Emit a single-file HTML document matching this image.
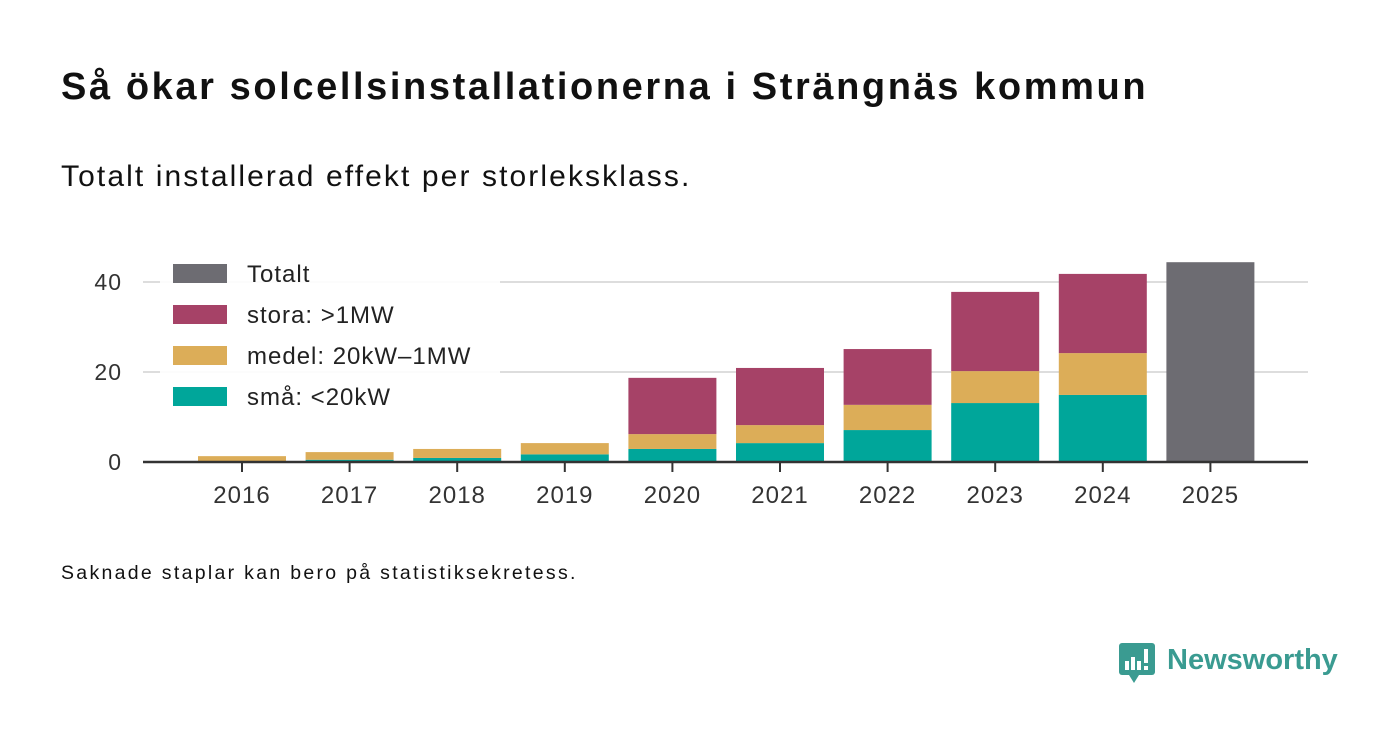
<!DOCTYPE html>
<html><head><meta charset="utf-8"><style>
body{margin:0;width:1400px;height:745px;background:#fff;font-family:"Liberation Sans",sans-serif;overflow:hidden;position:relative}
.t{position:absolute;left:61px;top:66px;font-size:38px;font-weight:bold;color:#111;letter-spacing:2.6px}
.s{position:absolute;left:61px;top:160px;font-size:30px;color:#111;letter-spacing:2.1px}
.n{position:absolute;left:61px;top:562px;font-size:19.5px;color:#111;letter-spacing:2.3px}
</style></head><body>
<div class="t">Så ökar solcellsinstallationerna i Strängnäs kommun</div>
<div class="s">Totalt installerad effekt per storleksklass.</div>
<svg id="c" width="1400" height="745" style="position:absolute;left:0;top:0"></svg>
<div class="n">Saknade staplar kan bero på statistiksekretess.</div>
<div style="position:absolute;left:1119px;top:643px">
<svg width="38" height="42"><rect x="0" y="0" width="36" height="32" rx="3" fill="#3a9b91"/><polygon points="10,32 20,32 15,40" fill="#3a9b91"/><rect x="6" y="18" width="4" height="9" fill="#fff"/><rect x="12" y="14" width="4" height="13" fill="#fff"/><rect x="18" y="18" width="4" height="9" fill="#fff"/><rect x="25" y="6" width="4" height="14" fill="#fff"/><rect x="25" y="23" width="4" height="4" fill="#fff"/></svg>
<span style="position:absolute;left:48px;top:1px;font-size:29px;font-weight:bold;color:#3a9b91">Newsworthy</span></div>
<script>
const years=["2016","2017","2018","2019","2020","2021","2022","2023","2024","2025"];
const small=[0.2,0.5,0.9,1.7,2.9,4.2,7.1,13.1,14.9,null];
const medel=[1.1,1.7,2.0,2.5,3.3,4.0,5.6,7.1,9.3,null];
const stora=[0,0,0,0,12.5,12.7,12.4,17.6,17.6,null];
const totalt=[null,null,null,null,null,null,null,null,null,44.4];
const yTicks=[0,20,40];
const svg=document.getElementById('c');const NS='http://www.w3.org/2000/svg';
const y=v=>462-v*4.5, x=i=>242+i*107.6, bw=88;
function mk(t,a,p){const e=document.createElementNS(NS,t);for(const k in a)e.setAttribute(k,a[k]);(p||svg).appendChild(e);return e;}
yTicks.forEach(v=>{if(v>0){const g=mk('line',{x1:143,x2:1308,y1:y(v),y2:y(v),stroke:'#ddd','stroke-width':2});

}
const t=mk('text',{x:122,y:y(v)+8,'text-anchor':'end','font-size':23,fill:'#333','font-family':'Liberation Sans','letter-spacing':1});t.textContent=v;

});
const cols=['#00a69a','#dcad58','#a64267'];
years.forEach((yr,i)=>{let b=0;[small,medel,stora].forEach((s,k)=>{const v=s[i];if(v){const r=mk('rect',{x:x(i)-bw/2,y:y(b+v),width:bw,height:v*4.5,fill:cols[k]});

b+=v;}});
if(totalt[i]){const r=mk('rect',{x:x(i)-bw/2,y:y(totalt[i]),width:bw,height:totalt[i]*4.5,fill:'#6d6c72'});

}
mk('line',{x1:x(i),x2:x(i),y1:462,y2:472,stroke:'#333','stroke-width':2});
const t=mk('text',{x:x(i),y:503,'text-anchor':'middle','font-size':24,fill:'#333','font-family':'Liberation Sans','letter-spacing':1});t.textContent=yr;

});
const ax=mk('line',{x1:143,x2:1308,y1:462,y2:462,stroke:'#333','stroke-width':2.5});


mk('rect',{x:160,y:255,width:340,height:157,fill:'#fff',opacity:0.9});
[['Totalt','#6d6c72'],['stora: >1MW','#a64267'],['medel: 20kW–1MW','#dcad58'],['små: <20kW','#00a69a']].forEach((l,j)=>{
const yy=264+j*41;mk('rect',{x:173,y:yy,width:54,height:19,fill:l[1]});
const t=mk('text',{x:247,y:yy+18,'font-size':24,fill:'#222','font-family':'Liberation Sans','letter-spacing':1});t.textContent=l[0];

});
</script>
</body></html>
